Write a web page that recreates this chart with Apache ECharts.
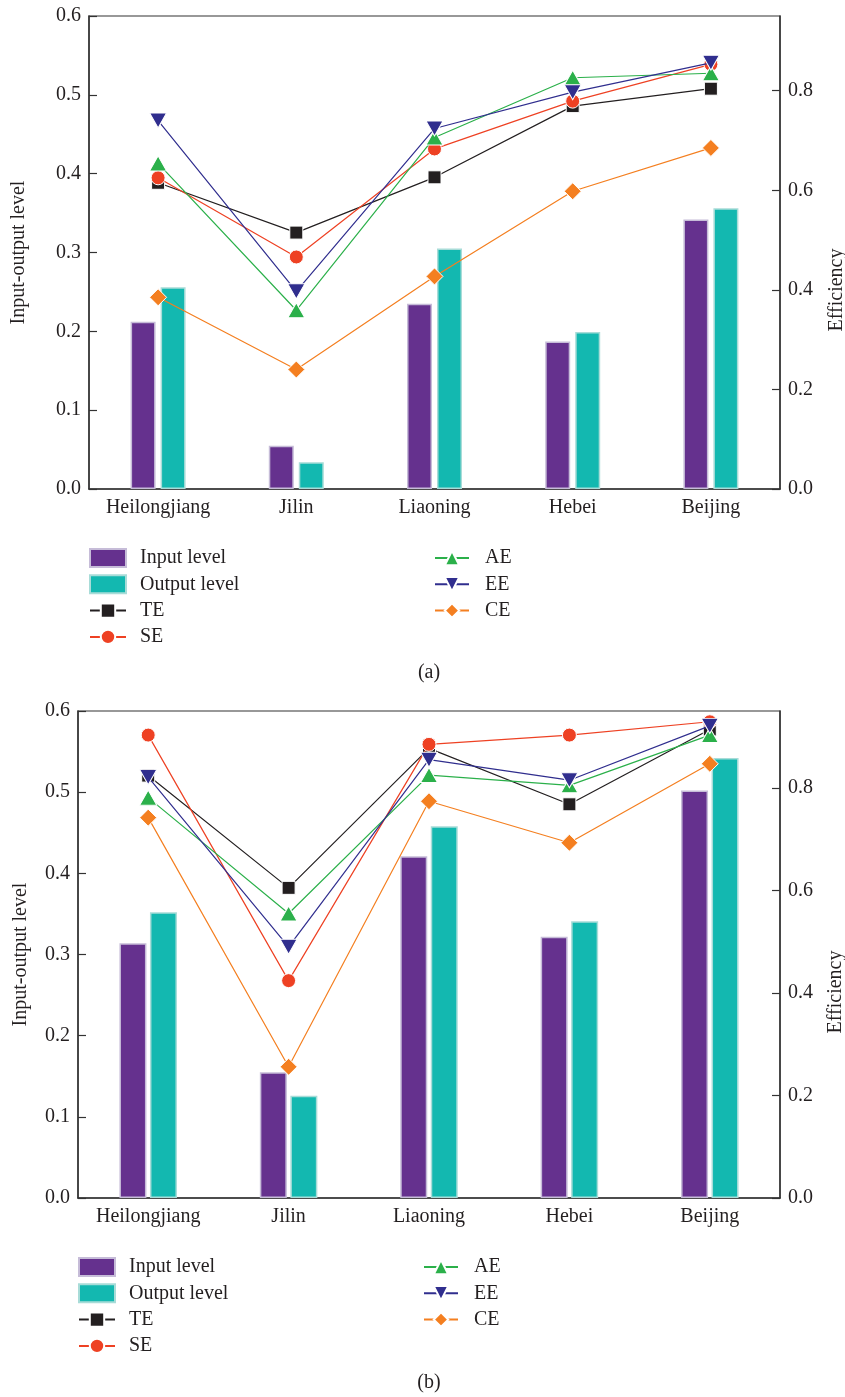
<!DOCTYPE html>
<html>
<head>
<meta charset="utf-8">
<script src="https://cdn.jsdelivr.net/npm/echarts@6/dist/echarts.min.js"></script>
<style>html,body{margin:0;padding:0;background:#fff}#c{width:845px;height:1397px}</style>
</head>
<body>
<div id="c"></div>
<script>
const categories = ['Heilongjiang', 'Jilin', 'Liaoning', 'Hebei', 'Beijing'];
const leftTicks = [0, 0.1, 0.2, 0.3, 0.4, 0.5, 0.6];
const rightTicks = [0, 0.2, 0.4, 0.6, 0.8];

// (a)
const aInput  = [0.212, 0.055, 0.235, 0.187, 0.342];
const aOutput = [0.256, 0.034, 0.305, 0.199, 0.356];
const aTE = [0.615, 0.515, 0.626, 0.769, 0.804];
const aSE = [0.625, 0.466, 0.683, 0.779, 0.853];
const aAE = [0.654, 0.359, 0.706, 0.826, 0.835];
const aEE = [0.740, 0.397, 0.724, 0.797, 0.856];
const aCE = [0.385, 0.240, 0.427, 0.598, 0.685];

// (b)
const bInput  = [0.314, 0.155, 0.421, 0.322, 0.502];
const bOutput = [0.352, 0.126, 0.458, 0.341, 0.542];
const bTE = [0.824, 0.605, 0.877, 0.768, 0.914];
const bSE = [0.903, 0.424, 0.885, 0.903, 0.929];
const bAE = [0.781, 0.555, 0.825, 0.805, 0.903];
const bEE = [0.821, 0.490, 0.855, 0.815, 0.921];
const bCE = [0.742, 0.256, 0.774, 0.693, 0.847];

const FONT = 'Liberation Serif';
const TXT = '#231F20';
const AX = '#333333';
const downTri = 'path://M0,0L20,0L10,17Z';

const lineDefs = [
  {name: 'TE', color: '#231F20', symbol: 'rect', size: 13},
  {name: 'SE', color: '#EE4123', symbol: 'circle', size: 14},
  {name: 'AE', color: '#2BB04A', symbol: 'triangle', size: [17, 15]},
  {name: 'EE', color: '#302E8E', symbol: downTri, size: [17, 15]},
  {name: 'CE', color: '#F47F20', symbol: 'diamond', size: [17, 17]}
];

function xAxisDef(gi) {
  return {
    type: 'category', gridIndex: gi, data: categories,
    axisLine: {lineStyle: {color: AX, width: 1.5}},
    axisTick: {alignWithLabel: true, inside: true, length: 8, lineStyle: {color: AX, width: 1.2}},
    axisLabel: {color: TXT, fontFamily: FONT, fontSize: 20, margin: 9}
  };
}
function leftAxisDef(gi, gap) {
  return {
    type: 'value', gridIndex: gi, min: 0, max: 0.6, interval: 0.1,
    name: 'Input-output level', nameLocation: 'middle', nameGap: gap, nameRotate: 90,
    nameTextStyle: {color: TXT, fontFamily: FONT, fontSize: 20},
    axisLine: {show: true, lineStyle: {color: AX, width: 1.5}},
    axisTick: {show: true, inside: true, length: 8, lineStyle: {color: AX, width: 1.2}},
    axisLabel: {color: TXT, fontFamily: FONT, fontSize: 20, margin: 8,
      formatter: v => leftTicks.some(t => Math.abs(t - v) < 1e-9) ? v.toFixed(1) : ''},
    splitLine: {show: false}
  };
}
function rightAxisDef(gi) {
  return {
    type: 'value', gridIndex: gi, position: 'right', min: 0, max: 0.95, interval: 0.2,
    axisLine: {show: true, lineStyle: {color: AX, width: 1.5}},
    axisTick: {show: true, inside: true, length: 8, lineStyle: {color: AX, width: 1.2}},
    axisLabel: {color: TXT, fontFamily: FONT, fontSize: 20, margin: 8, showMaxLabel: false,
      formatter: v => rightTicks.some(t => Math.abs(t - v) < 1e-9) ? v.toFixed(1) : ''},
    splitLine: {show: false}
  };
}

function seriesFor(gi, input, output, lines, bw, gapPct) {
  const xi = gi, yl = gi * 2, yr = gi * 2 + 1;
  const s = [
    {name: 'Input level', type: 'bar', xAxisIndex: xi, yAxisIndex: yl, data: input,
     barWidth: bw, barGap: gapPct,
     itemStyle: {color: '#65318E', borderColor: '#c6bcd8', borderWidth: 1.5}},
    {name: 'Output level', type: 'bar', xAxisIndex: xi, yAxisIndex: yl, data: output,
     barWidth: bw, barGap: gapPct,
     itemStyle: {color: '#13B8B0', borderColor: '#a8dcd8', borderWidth: 1.5}}
  ];
  lineDefs.forEach((d, i) => {
    s.push({
      name: d.name, type: 'line', xAxisIndex: xi, yAxisIndex: yr, data: lines[i],
      symbol: d.symbol, symbolSize: d.size, showAllSymbol: true,
      lineStyle: {color: d.color, width: 1.2},
      itemStyle: {color: d.color, borderColor: '#fff', borderWidth: 1},
      z: 3 + i
    });
  });
  return s;
}

function legendDefs(left1, left2, top) {
  const common = {
    orient: 'vertical', top: top, itemWidth: 36, itemHeight: 18, itemGap: 6.3, padding: 0,
    textStyle: {color: TXT, fontFamily: FONT, fontSize: 20, lineHeight: 18, padding: [0, 0, 0, 9]}
  };
  return [
    Object.assign({}, common, {left: left1, data: [
      {name: 'Input level', icon: 'rect'}, {name: 'Output level', icon: 'rect'}, 'TE', 'SE']}),
    Object.assign({}, common, {left: left2, itemWidth: 34, data: ['AE', 'EE', 'CE'],
      textStyle: Object.assign({}, common.textStyle, {padding: [0, 0, 0, 11]})})
  ];
}

const chart = echarts.init(document.getElementById('c'), null, {renderer: 'canvas'});
chart.setOption({
  backgroundColor: '#fff',
  animation: false,
  grid: [
    {left: 89, right: 65, top: 16, height: 473, show: true, borderColor: AX, borderWidth: 1.2, backgroundColor: 'transparent'},
    {left: 78, right: 65, top: 711, height: 487, show: true, borderColor: AX, borderWidth: 1.2, backgroundColor: 'transparent'}
  ],
  xAxis: [xAxisDef(0), xAxisDef(1)],
  yAxis: [leftAxisDef(0, 60), rightAxisDef(0), leftAxisDef(1, 47), rightAxisDef(1)],
  legend: legendDefs(89, 434, 548).concat(legendDefs(78, 423, 1257)),
  series: seriesFor(0, aInput, aOutput, [aTE, aSE, aAE, aEE, aCE], 25, '20%')
    .concat(seriesFor(1, bInput, bOutput, [bTE, bSE, bAE, bEE, bCE], 27, '13%')),
  graphic: [
    {type: 'text', x: 837, y: 290, rotation: Math.PI / 2,
     style: {text: 'Efficiency', fill: TXT, font: '20px "Liberation Serif"', textAlign: 'center', textVerticalAlign: 'middle'}},
    {type: 'text', x: 836, y: 992, rotation: Math.PI / 2,
     style: {text: 'Efficiency', fill: TXT, font: '20px "Liberation Serif"', textAlign: 'center', textVerticalAlign: 'middle'}},
    {type: 'text', x: 429, y: 673,
     style: {text: '(a)', fill: TXT, font: '20px "Liberation Serif"', textAlign: 'center', textVerticalAlign: 'middle'}},
    {type: 'text', x: 429, y: 1383,
     style: {text: '(b)', fill: TXT, font: '20px "Liberation Serif"', textAlign: 'center', textVerticalAlign: 'middle'}}
  ]
});
</script>
</body>
</html>
